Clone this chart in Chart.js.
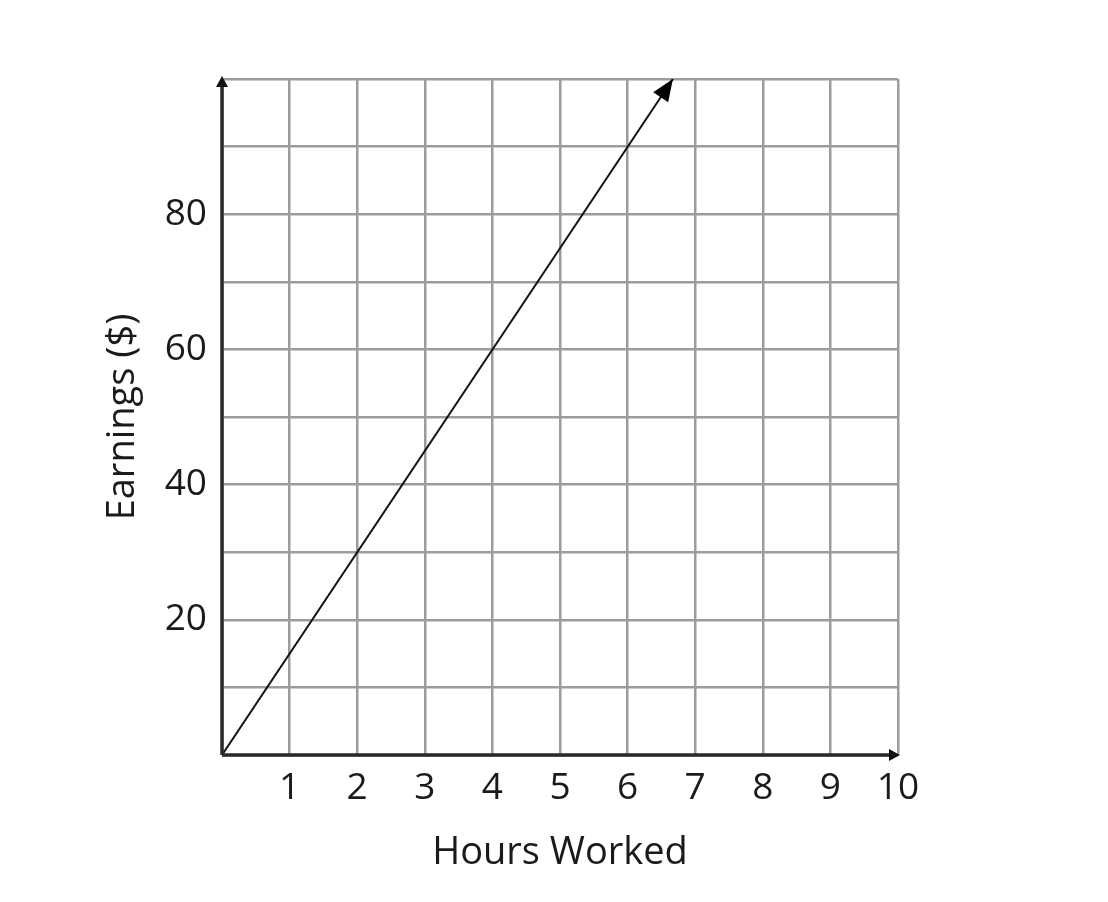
<!DOCTYPE html>
<html><head><meta charset="utf-8">
<script src="https://cdn.jsdelivr.net/npm/chart.js@4/dist/chart.umd.min.js"></script>
<style>html,body{margin:0;padding:0;background:#fff;}#wrap{width:1108px;height:902px;}</style>
</head><body><div id="wrap"><canvas id="c" width="1108" height="902"></canvas></div>
<script>
const hours = [0, 6.67];
const earnings = [0, 100];
const xTickLabels = ['', '1', '2', '3', '4', '5', '6', '7', '8', '9', '10'];
const yTickLabels = { 20: '20', 40: '40', 60: '60', 80: '80' };
const xTitle = 'Hours Worked';
const yTitle = 'Earnings ($)';

const FONT = "'Open Sans', sans-serif";

function arrowHead(ctx, x1, y1, x2, y2, len, wid, color) {
  const a = Math.atan2(y2 - y1, x2 - x1);
  ctx.save();
  ctx.fillStyle = color;
  ctx.beginPath();
  ctx.moveTo(x2, y2);
  ctx.lineTo(x2 - len * Math.cos(a) + wid * Math.sin(a), y2 - len * Math.sin(a) - wid * Math.cos(a));
  ctx.lineTo(x2 - len * Math.cos(a) - wid * Math.sin(a), y2 - len * Math.sin(a) + wid * Math.cos(a));
  ctx.closePath();
  ctx.fill();
  ctx.restore();
}

const arrows = {
  id: 'arrows',
  afterDatasetsDraw(chart) {
    const ctx = chart.ctx;
    const xs = chart.scales.x, ys = chart.scales.y;
    ctx.save();
    ctx.strokeStyle = '#2a2a2a';
    ctx.lineWidth = 3.5;
    ctx.beginPath();
    ctx.moveTo(xs.getPixelForValue(0), ys.getPixelForValue(0));
    ctx.lineTo(xs.getPixelForValue(0), ys.getPixelForValue(100) + 4);
    ctx.moveTo(xs.getPixelForValue(0), ys.getPixelForValue(0));
    ctx.lineTo(xs.getPixelForValue(10) - 4, ys.getPixelForValue(0));
    ctx.stroke();
    ctx.restore();
    arrowHead(ctx, xs.getPixelForValue(0), ys.getPixelForValue(0), xs.getPixelForValue(0), ys.getPixelForValue(100) - 3, 11, 6, '#111');
    arrowHead(ctx, xs.getPixelForValue(0), ys.getPixelForValue(0), xs.getPixelForValue(10) + 2, ys.getPixelForValue(0), 11, 6, '#111');
    const meta = chart.getDatasetMeta(0);
    const p0 = meta.data[meta.data.length - 2], p1 = meta.data[meta.data.length - 1];
    arrowHead(ctx, p0.x, p0.y, p1.x, p1.y, 22, 9, '#000');
  }
};

new Chart(document.getElementById('c'), {
  type: 'scatter',
  data: {
    datasets: [{
      data: hours.map((h, i) => ({ x: h, y: earnings[i] })),
      showLine: true,
      borderColor: '#111',
      borderWidth: 2,
      pointRadius: 0,
      fill: false
    }]
  },
  options: {
    responsive: false,
    animation: false,
    devicePixelRatio: 1,
    layout: { padding: { top: 79, right: 210, left: 100, bottom: 26 } },
    plugins: { legend: { display: false }, tooltip: { enabled: false } },
    scales: {
      x: {
        type: 'linear', min: 0, max: 10,
        afterFit(s) { s.height = 121; },
        grid: { color: '#9c9c9c', lineWidth: 2.5, drawTicks: false },
        border: { display: false },
        ticks: {
          stepSize: 1, autoSkip: false, maxRotation: 0, padding: 11,
          color: '#1a1a1a', font: { family: FONT, size: 37 },
          callback: v => xTickLabels[v] ?? ''
        },
        title: { display: true, text: xTitle, color: '#1a1a1a', font: { family: FONT, size: 38 }, padding: { top: 0, bottom: 0 } }
      },
      y: {
        type: 'linear', min: 0, max: 100,
        afterFit(s) { s.width = 122; },
        grid: { color: '#9c9c9c', lineWidth: 2.5, drawTicks: false },
        border: { display: false },
        ticks: {
          stepSize: 10, autoSkip: false, padding: 15,
          color: '#1a1a1a', font: { family: FONT, size: 37 },
          callback: v => yTickLabels[v] ?? ''
        },
        title: { display: true, text: yTitle, color: '#1a1a1a', font: { family: FONT, size: 38 }, padding: { top: 0, bottom: 0 } }
      }
    }
  },
  plugins: [arrows]
});
</script></body></html>
